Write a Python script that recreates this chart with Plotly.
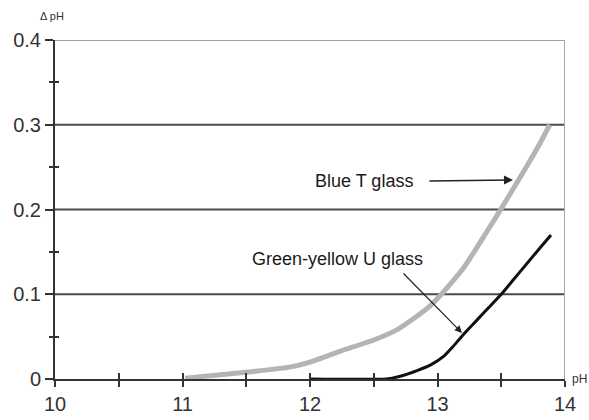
import plotly.graph_objects as go

# Delta pH versus pH for two glass electrode types
blue_ph = [11.02, 11.5, 11.84, 12.0, 12.24, 12.5, 12.68, 12.8, 12.94, 13.03, 13.1,
           13.2, 13.3, 13.4, 13.5, 13.6, 13.7, 13.8, 13.88]
blue_dph = [0.001, 0.008, 0.014, 0.02, 0.033, 0.046, 0.058, 0.07, 0.086, 0.1, 0.112,
            0.13, 0.153, 0.177, 0.201, 0.226, 0.251, 0.277, 0.30]

green_ph = [12.0, 12.6, 12.7, 12.84, 12.95, 13.05, 13.12, 13.2, 13.3, 13.4, 13.5,
            13.6, 13.7, 13.8, 13.89]
green_dph = [0.0, 0.0, 0.003, 0.01, 0.017, 0.027, 0.038, 0.052, 0.068, 0.084, 0.1,
             0.118, 0.136, 0.154, 0.17]

x_ticks = [10, 11, 12, 13, 14]
x_half_ticks = [10.5, 11.5, 12.5, 13.5]
y_ticks = [0, 0.1, 0.2, 0.3, 0.4]
y_ticklabels = ["0", "0.1", "0.2", "0.3", "0.4"]
y_half_ticks = [0.05, 0.15, 0.25, 0.35]
grid_levels = [0.1, 0.2, 0.3]

FONT = "Liberation Sans, Arial, sans-serif"
AXIS = "#333333"

fig = go.Figure()

fig.add_trace(go.Scatter(
    x=blue_ph, y=blue_dph, mode="lines",
    line=dict(color="#b4b4b4", width=5, shape="spline", smoothing=0.5),
    hoverinfo="skip", showlegend=False))
fig.add_trace(go.Scatter(
    x=green_ph, y=green_dph, mode="lines",
    line=dict(color="#111111", width=3, shape="spline", smoothing=0.5),
    hoverinfo="skip", showlegend=False))
# carrier trace for the overlay axes that draw the inner half of each tick
fig.add_trace(go.Scatter(x=[10], y=[0], xaxis="x2", yaxis="y2", mode="markers",
                         marker=dict(opacity=0), hoverinfo="skip", showlegend=False))

# horizontal reference lines and the frame on top/right
for g in grid_levels:
    fig.add_shape(type="line", xref="paper", yref="y", x0=0, x1=1, y0=g, y1=g,
                  line=dict(color="#4a4a4a", width=2), layer="below")
fig.add_shape(type="line", xref="paper", yref="y", x0=0, x1=1, y0=0.4, y1=0.4,
              line=dict(color="#a0a0a0", width=2), layer="below")
fig.add_shape(type="line", xref="x", yref="y", x0=14, x1=14, y0=0, y1=0.4,
              line=dict(color="#a8a8a8", width=2), layer="below")

xticks_all = sorted(x_ticks + x_half_ticks)
xtext_all = [str(v) if v in x_ticks else "" for v in xticks_all]

fig.update_layout(
    width=589, height=420,
    margin=dict(l=55, r=24, t=40, b=41, autoexpand=False),
    paper_bgcolor="white", plot_bgcolor="white",
    font=dict(family=FONT, color=AXIS),
    xaxis=dict(range=[10, 14], showgrid=False, zeroline=False, automargin=False,
               showline=True, linecolor=AXIS, linewidth=2,
               tickmode="array", tickvals=xticks_all, ticktext=xtext_all,
               ticks="outside", ticklen=6, tickwidth=2, tickcolor=AXIS,
               tickfont=dict(size=20, color=AXIS, family=FONT)),
    xaxis2=dict(range=[10, 14], overlaying="x", anchor="y", showgrid=False,
                zeroline=False, showline=False, automargin=False,
                tickmode="array", tickvals=xticks_all, ticks="inside",
                ticklen=6, tickwidth=2, tickcolor=AXIS, showticklabels=False),
    yaxis=dict(range=[0, 0.4], showgrid=False, zeroline=False, automargin=False,
               showline=True, linecolor=AXIS, linewidth=2,
               tickmode="array", tickvals=y_ticks, ticktext=y_ticklabels,
               ticks="outside", ticklen=8, tickwidth=2, tickcolor=AXIS,
               tickfont=dict(size=20, color=AXIS, family=FONT),
               minor=dict(tickmode="array", tickvals=y_half_ticks,
                          ticks="outside", ticklen=4, tickwidth=2, tickcolor=AXIS)),
    yaxis2=dict(range=[0, 0.4], overlaying="y", anchor="x", side="left",
                showgrid=False, zeroline=False, showline=False, automargin=False,
                tickmode="array", tickvals=y_half_ticks, ticks="inside",
                ticklen=4, tickwidth=2, tickcolor=AXIS, showticklabels=False),
)

annotations = [
    dict(text="Δ pH", xref="paper", yref="paper", x=0.0, y=1.0, xshift=-3, yshift=24,
         xanchor="center", yanchor="middle", showarrow=False,
         font=dict(size=11, color=AXIS, family=FONT)),
    dict(text="pH", xref="paper", yref="y", x=1.0, y=0, xshift=5,
         xanchor="left", yanchor="middle", showarrow=False,
         font=dict(size=12, color=AXIS, family=FONT)),
    dict(text="Blue T glass", x=12.424, y=0.2336, xanchor="center", yanchor="middle",
         showarrow=False, font=dict(size=18, color="#1a1a1a", family=FONT)),
    dict(text="Green-yellow U glass", x=12.212, y=0.1416, xanchor="center",
         yanchor="middle", showarrow=False,
         font=dict(size=18, color="#1a1a1a", family=FONT)),
    dict(text="", x=13.592, y=0.2348, ax=12.925, ay=0.2336, axref="x", ayref="y",
         showarrow=True, arrowhead=2, arrowsize=1.2, arrowwidth=1.5,
         arrowcolor="#222222"),
    dict(text="", x=13.192, y=0.0543, ax=12.722, ay=0.1263, axref="x", ayref="y",
         showarrow=True, arrowhead=2, arrowsize=1.2, arrowwidth=1.2,
         arrowcolor="#222222"),
]
fig.update_layout(annotations=annotations)

fig.write_html("out.html")
